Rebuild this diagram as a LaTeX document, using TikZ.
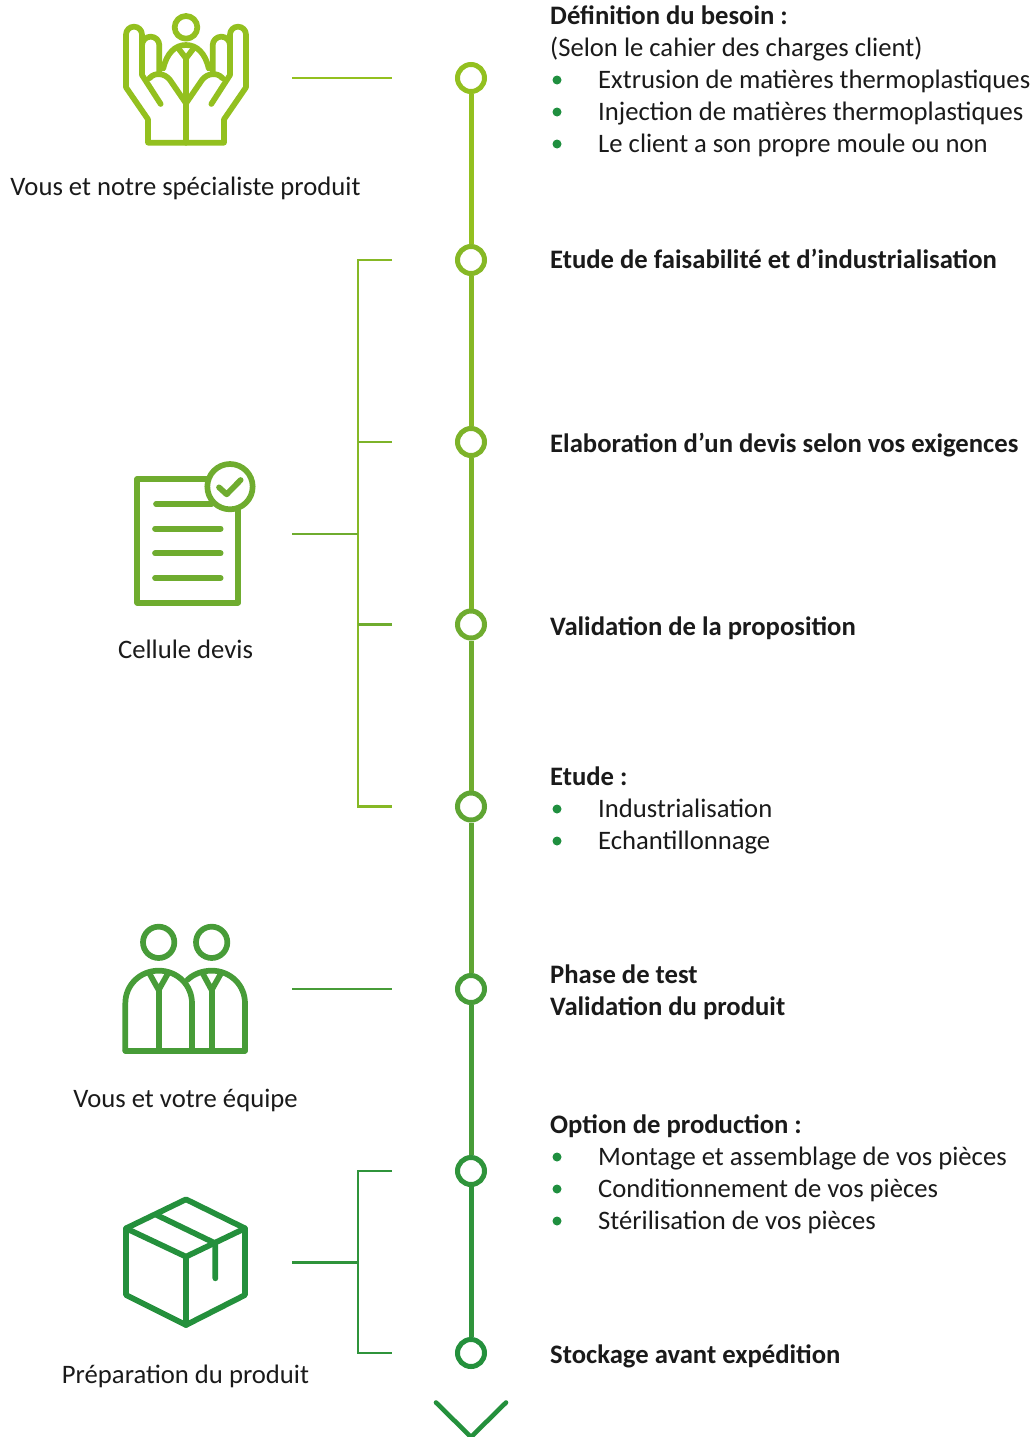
\documentclass[tikz,border=0pt]{standalone}
\usepackage{fontspec}
\setmainfont{Carlito}
\definecolor{ca}{HTML}{93C01F}
\definecolor{cb}{HTML}{86B825}
\definecolor{cc}{HTML}{7DB329}
\definecolor{cd}{HTML}{6FAC2F}
\definecolor{ce}{HTML}{5FA533}
\definecolor{cf}{HTML}{479C38}
\definecolor{cg}{HTML}{2F943B}
\definecolor{ch}{HTML}{24903C}
\definecolor{txt}{HTML}{1A1A1A}
\definecolor{bul}{HTML}{1F8F3F}
\tikzset{
  stemline/.style={line width=5pt},
  thin link/.style={line width=2.2pt},
  dotnode/.style={circle,draw,fill=white,line width=5pt,minimum size=27pt,inner sep=0pt},
  icon/.style={line width=5.7pt,line cap=round,line join=round},
  sb/.style={anchor=base west,text=txt,font=\fontsize{26.67}{32}\selectfont\bfseries,inner sep=0pt},
  st/.style={anchor=base west,text=txt,font=\fontsize{26.67}{32}\selectfont,inner sep=0pt},
  lab/.style={anchor=base,text=txt,font=\fontsize{26.67}{32}\selectfont,inner sep=0pt},
  bulletdot/.style={circle,fill=bul,minimum size=9pt,inner sep=0pt},
  zoomed/.style={x=0.33333pt,y=-0.33333pt}
}
\newcommand{\halfhand}{
  \draw[icon] (228,428) -- (114,428) -- (114,358) -- (48,262) -- (48,104)
     arc[start angle=180,end angle=360,radius=24] -- (96,225) -- (152,312);
  \draw[icon] (96,136) arc[start angle=180,end angle=360,radius=26] -- (148,215);
  \draw[icon] (118,235) .. controls (135,215) and (165,220) .. (180,240) -- (228,310);
  \draw[icon] (228,175) -- (205,145);
}
\begin{document}
\begin{tikzpicture}[x=1pt,y=-1pt]
\useasboundingbox (0,0) rectangle (1033,1437);
% dots
\node[dotnode,draw=ca] (n1) at (471,78) {};
\node[dotnode,draw=cb] (n2) at (471,260) {};
\node[dotnode,draw=cc] (n3) at (471,442) {};
\node[dotnode,draw=cd] (n4) at (471,624.5) {};
\node[dotnode,draw=ce] (n5) at (471,806.5) {};
\node[dotnode,draw=cf] (n6) at (471,989) {};
\node[dotnode,draw=cg] (n7) at (471,1171) {};
\node[dotnode,draw=ch] (n8) at (471,1353) {};
% stems
\draw[stemline,ca] (n1) -- (n2);
\draw[stemline,cb] (n2) -- (n3);
\draw[stemline,cc] (n3) -- (n4);
\draw[stemline,cd] (n4) -- (n5);
\draw[stemline,ce] (n5) -- (n6);
\draw[stemline,cf] (n6) -- (n7);
\draw[stemline,cg] (n7) -- (n8);
% chevron
\coordinate (ca1) at (436,1402.5);
\coordinate (ca2) at (471,1437);
\coordinate (ca3) at (506,1402.5);
\draw[line width=4.6pt,ch,line cap=round,line join=miter] (ca1) -- (ca2) -- (ca3);
% links
\coordinate (l1a) at (292,78);\coordinate (l1b) at (392,78);
\draw[thin link,ca] (l1a) -- (l1b);
\coordinate (b2) at (392,260);\coordinate (b3) at (392,442);\coordinate (b4) at (392,624.5);\coordinate (b5) at (392,806.5);
\coordinate (bj) at (358,534);\coordinate (bs) at (292,534);
\draw[thin link,cb] (b2) -- (358,260) -- (358,806.5) -- (b5);
\draw[thin link,cc] (b3) -- (358,442);
\draw[thin link,cd] (b4) -- (358,624.5);
\draw[thin link,cd] (bs) -- (bj);
\coordinate (l6a) at (292,989);\coordinate (l6b) at (392,989);
\draw[thin link,cf] (l6a) -- (l6b);
\coordinate (b7) at (392,1171);\coordinate (b8) at (392,1353);
\coordinate (bj2) at (358,1262.5);\coordinate (bs2) at (292,1262.5);
\draw[thin link,cg] (b7) -- (358,1171) -- (358,1353) -- (b8);
\draw[thin link,cg] (bs2) -- (bj2);
% icon hands
\begin{scope}[shift={(110,0)},zoomed,ca]
  \draw[icon] (228,82) circle[radius=34];
  \draw[icon] (160,205) .. controls (170,160) and (195,135) .. (228,135) .. controls (261,135) and (286,160) .. (296,205);
  \draw[icon] (228,428) -- (228,175);
  \halfhand
  \begin{scope}[xshift=152pt,xscale=-1]
    \halfhand
  \end{scope}
\end{scope}
% icon doc
\begin{scope}[shift={(120,450)},zoomed,cd]
  \draw[icon] (354,170) -- (354,458) -- (52,458) -- (52,87) -- (270,87);
  \draw[icon] (108,162) -- (275,162);
  \draw[icon] (105,236) -- (302,236);
  \draw[icon] (105,310) -- (302,310);
  \draw[icon] (105,384) -- (302,384);
  \draw[icon,fill=white] (330,110) circle[radius=68];
  \draw[icon] (297,112) -- (320,133) -- (362,90);
\end{scope}
% icon people
\begin{scope}[shift={(110,910)},zoomed,cf]
  \draw[icon] (146,97) circle[radius=47];
  \draw[icon] (305,97) circle[radius=47];
  \draw[icon] (46,422) -- (46,280) .. controls (46,225) and (90,182) .. (146,182) .. controls (202,182) and (246,225) .. (246,280) -- (246,422);
  \draw[icon] (232,210) .. controls (250,192) and (278,182) .. (305,182) .. controls (361,182) and (405,225) .. (405,280) -- (405,422);
  \draw[icon] (46,422) -- (405,422);
  \draw[icon] (146,240) -- (146,422);
  \draw[icon] (305,240) -- (305,422);
  \draw[icon] (118,190) -- (146,240) -- (174,190);
  \draw[icon] (278,190) -- (305,240) -- (333,190);
\end{scope}
% icon box
\begin{scope}[shift={(110,1190)},zoomed,ch]
  \draw[icon] (228,28) -- (405,115) -- (405,315) -- (228,405) -- (48,315) -- (48,115) -- cycle;
  \draw[icon] (48,115) -- (228,200) -- (405,115);
  \draw[icon] (228,200) -- (228,405);
  \draw[icon] (140,75) -- (316,160) -- (316,265);
\end{scope}
% left labels
\node[lab] (t1) at (185.5,195.8) {Vous et notre spécialiste produit};
\node[lab] (t2) at (185.5,658.8) {Cellule devis};
\node[lab] (t3) at (185.5,1107.8) {Vous et votre équipe};
\node[lab] (t4) at (185.5,1383.8) {Préparation du produit};
% right text
\node[sb] (r1) at (550,24.8) {Définition du besoin :};
\node[st] (r2) at (550,56.8) {(Selon le cahier des charges client)};
\node[bulletdot] (d1) at (557,80) {};
\node[st] (r3) at (598,88.8) {Extrusion de matières thermoplastiques};
\node[bulletdot] (d2) at (557,112) {};
\node[st] (r4) at (598,120.8) {Injection de matières thermoplastiques};
\node[bulletdot] (d3) at (557,144) {};
\node[st] (r5) at (598,152.8) {Le client a son propre moule ou non};
\node[sb] (r6) at (550,268.8) {Etude de faisabilité et d’industrialisation};
\node[sb] (r7) at (550,452.8) {Elaboration d’un devis selon vos exigences};
\node[sb] (r8) at (550,635.8) {Validation de la proposition};
\node[sb] (r9) at (550,785.8) {Etude :};
\node[bulletdot] (d4) at (557,809) {};
\node[st] (r10) at (598,817.8) {Industrialisation};
\node[bulletdot] (d5) at (557,841) {};
\node[st] (r11) at (598,849.8) {Echantillonnage};
\node[sb] (r12) at (550,983.8) {Phase de test};
\node[sb] (r13) at (550,1015.8) {Validation du produit};
\node[sb] (r14) at (550,1133.8) {Option de production :};
\node[bulletdot] (d6) at (557,1157) {};
\node[st] (r15) at (598,1165.8) {Montage et assemblage de vos pièces};
\node[bulletdot] (d7) at (557,1189) {};
\node[st] (r16) at (598,1197.8) {Conditionnement de vos pièces};
\node[bulletdot] (d8) at (557,1221) {};
\node[st] (r17) at (598,1229.8) {Stérilisation de vos pièces};
\node[sb] (r18) at (550,1363.8) {Stockage avant expédition};
\end{tikzpicture}
\end{document}
